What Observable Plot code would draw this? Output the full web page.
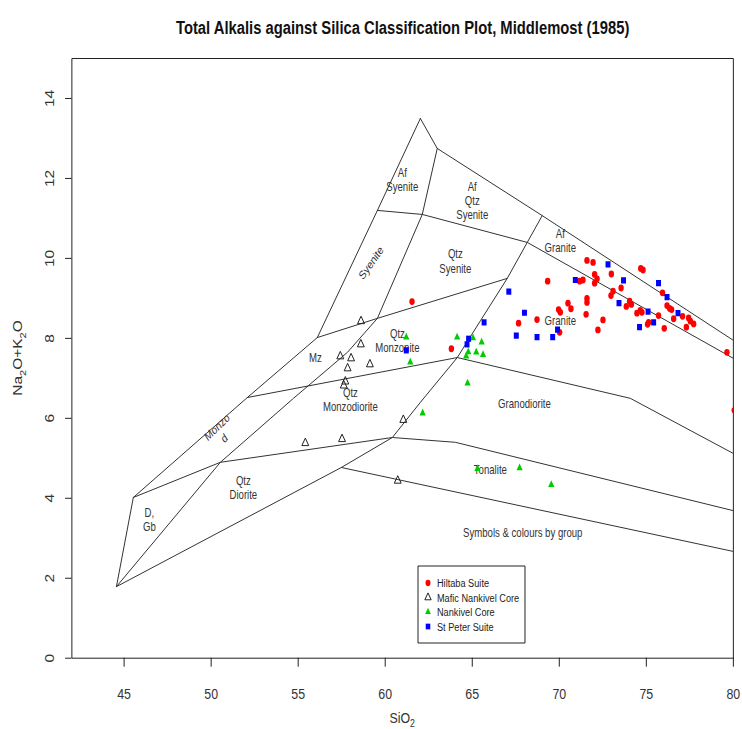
<!DOCTYPE html>
<html>
<head>
<meta charset="utf-8">
<script src="https://cdn.jsdelivr.net/npm/d3@7"></script>
<script src="https://cdn.jsdelivr.net/npm/@observablehq/plot@0.6"></script>
<style>
  html, body { margin: 0; padding: 0; background: #fff; overflow: hidden; }
  #chart svg { display: block; }
  #chart svg path, #chart svg line, #chart svg rect { vector-effect: non-scaling-stroke; }
</style>
</head>
<body>
<div id="chart"></div>
<script>
// ---------- data ----------
const titleText = "Total Alkalis against Silica Classification Plot, Middlemost (1985)";
const xTicks = [45, 50, 55, 60, 65, 70, 75, 80];
const yTicks = [0, 2, 4, 6, 8, 10, 12, 14];
const groupNames = ["Hiltaba Suite", "Mafic Nankivel Core", "Nankivel Core", "St Peter Suite"];

const hiltabaSiO2 = [61.54,63.80,69.33,67.66,68.72,69.96,70.06,70.50,70.67,70.02,71.59,71.94,72.99,71.17,71.36,72.03,72.17,72.03,71.59,71.59,71.54,72.22,72.51,73.09,72.97,73.55,73.85,74.04,74.14,74.46,74.65,74.75,74.81,75.07,75.13,75.70,75.93,76.03,76.19,76.34,76.45,76.57,77.08,77.43,77.53,77.72,77.30,79.63,80.05,74.68];
const hiltabaAlk  = [8.92,7.74,9.43,8.38,8.47,8.72,8.65,8.88,8.74,8.15,9.95,9.90,9.61,9.43,9.46,9.60,9.49,9.38,9.00,8.90,8.60,8.21,8.46,9.18,9.07,9.26,8.80,8.93,8.85,8.63,8.70,8.65,9.71,8.35,8.40,8.57,9.14,8.25,8.82,8.75,8.72,8.49,8.55,8.51,8.43,8.36,8.28,7.65,6.20,9.75];

const maficSiO2 = [58.61,58.60,57.42,58.04,57.84,59.12,57.71,57.62,61.04,57.52,55.41,60.72];
const maficAlk  = [8.43,7.85,7.55,7.50,7.25,7.35,6.92,6.82,5.96,5.48,5.38,4.44];

const nankivelSiO2 = [61.21,61.44,64.13,65.04,65.54,64.77,65.23,65.62,64.65,64.73,62.15,65.30,67.72,69.54];
const nankivelAlk  = [8.03,7.40,8.03,8.01,7.90,7.66,7.65,7.59,7.55,6.88,6.13,4.74,4.76,4.34];

const stPeterSiO2 = [64.79,64.70,61.21,65.68,67.10,68.00,67.53,68.72,69.62,69.90,70.92,72.80,73.69,75.70,76.19,73.43,75.10,76.82,75.42,74.61];
const stPeterAlk  = [7.99,7.85,7.70,8.40,9.17,8.64,8.07,8.03,8.03,8.22,9.46,9.85,9.45,9.38,9.03,8.88,8.67,8.63,8.40,8.28];

// classification boundaries (SiO2, Na2O+K2O)
const tasLines = [
  [[44.56,1.79],[45.53,4.02]],
  [[45.53,4.02],[52.08,6.52],[56.10,8.02],[59.55,11.20],[62.02,13.50]],
  [[62.02,13.50],[62.99,12.75],[69.02,11.07],[80,7.95]],
  [[44.56,1.79],[57.48,4.77],[80,2.67]],
  [[45.53,4.02],[50.53,4.90],[60.41,5.52],[64.03,5.40],[80,3.69]],
  [[44.56,1.79],[50.53,4.90],[54.73,6.50],[57.83,7.65],[59.55,8.50],[62.13,11.10],[62.99,12.75]],
  [[52.08,6.52],[64.14,7.52],[74.08,6.50],[80,5.12]],
  [[57.48,4.77],[60.41,5.52],[62.02,6.40],[64.14,7.52],[65.47,8.44],[67.01,9.50],[68.16,10.40],[69.02,11.07]],
  [[56.10,8.02],[59.55,8.50],[67.01,9.50]],
  [[59.55,11.20],[62.13,11.10],[68.16,10.40],[80,7.50]]
];

const fieldNames = ["Af\nSyenite","Af\nQtz\nSyenite","Af\nGranite","Syenite","Qtz\nSyenite","Mz","Qtz\nMonzonite","Granite","Qtz\nMonzodiorite","Granodiorite","Monzo\nd","Qtz\nDiorite","D,\nGb","Tonalite","Symbols & colours by group"];
const fieldX = [60.98,65.00,70.06,59.17,64.03,55.99,60.70,70.06,58.00,68.00,50.53,51.85,46.45,66.04,67.90];
const fieldY = [11.97,11.45,10.45,9.90,9.94,7.52,7.95,8.44,6.47,6.37,5.65,4.27,3.47,4.73,3.14];
const fieldAngle = [0,0,0,-48.8,0,0,0,0,0,0,-38.7,0,0,0,0];

// ---------- build ----------
const FONT = "'Liberation Sans', Arial, Helvetica, sans-serif";
const OUT_W = 742, W = 928, H = 729;   // drawn wide, then squeezed horizontally like the reference

const toPts = (xs, ys) => xs.map((x, i) => ({x, y: ys[i]}));
const hiltaba = toPts(hiltabaSiO2, hiltabaAlk);
const mafic = toPts(maficSiO2, maficAlk);
const nankivel = toPts(nankivelSiO2, nankivelAlk);
const stPeter = toPts(stPeterSiO2, stPeterAlk);
const lineRows = tasLines.flatMap((pl, id) => pl.map(([x, y]) => ({x, y, id})));
const labels = fieldNames.map((t, i) => ({t, x: fieldX[i], y: fieldY[i], r: fieldAngle[i]}));

const styles = [
  {symbol: "circle", r: 3.4, fill: "#ff0000", stroke: "none"},
  {symbol: "triangle", r: 3.2, fill: "none", stroke: "#222"},
  {symbol: "triangle", r: 2.9, fill: "#00cd00", stroke: "none"},
  {symbol: "square", r: 3.5, fill: "#0000ff", stroke: "none"}
];
const groupData = [hiltaba, mafic, nankivel, stPeter];

const plot = Plot.plot({
  width: W, height: H,
  marginLeft: 89.4, marginRight: 11.3, marginTop: 58, marginBottom: 71.3,
  x: {domain: [42, 80]},
  y: {domain: [0, 15]},
  style: {fontFamily: FONT, background: "#fff", color: "#222"},
  marks: [
    Plot.line(lineRows, {x: "x", y: "y", z: "id", stroke: "#333", strokeWidth: 1, clip: true}),
    Plot.text(labels, {x: "x", y: "y", text: "t", rotate: "r", fontSize: 12, fill: "#333", lineHeight: 1.2}),
    ...groupData.map((d, i) => Plot.dot(d, {x: "x", y: "y", symbol: styles[i].symbol, r: styles[i].r,
      fill: styles[i].fill, stroke: styles[i].stroke, strokeWidth: 1, clip: true})),
    Plot.frame({stroke: "#222"}),
    Plot.axisX({ticks: xTicks, tickSize: 9, tickPadding: 21, fontSize: 15.5, label: null, stroke: "#222", fill: "#333"}),
    Plot.axisY({ticks: yTicks, tickSize: 8, tickFormat: () => "", label: null, stroke: "#222"}),
    Plot.text(yTicks, {x: () => 42, y: d => d, text: d => String(d), rotate: -90, dx: -27, fontSize: 15.5, fill: "#333"}),
    Plot.text([titleText], {frameAnchor: "top", dy: -38, fontWeight: "bold", fontSize: 18.5, fill: "#111"})
  ]
});

const svg = d3.select(plot);
const cx = (89.4 + (W - 11.3)) / 2;

// x-axis title with subscript
const xl = svg.append("text").attr("x", cx).attr("y", 723).attr("text-anchor", "middle")
  .attr("font-size", 15.5).attr("fill", "#333");
xl.append("tspan").text("SiO");
xl.append("tspan").attr("dy", 4).attr("font-size", 11).text("2");

// y-axis title with subscripts
const yl = svg.append("text").attr("transform", `translate(28,358) rotate(-90)`)
  .attr("text-anchor", "middle").attr("font-size", 15.5).attr("fill", "#333");
[["Na", 0], ["2", 1], ["O+K", 0], ["2", 1], ["O", 0]].forEach(([s, sub], i, arr) => {
  const prevSub = i > 0 ? arr[i - 1][1] : 0;
  const t = yl.append("tspan").text(s);
  if (sub) t.attr("dy", 4).attr("font-size", 11);
  else if (prevSub) t.attr("dy", -4);
});

// legend
const lg = svg.append("g").attr("text-anchor", "start");
const lx = 522.8, ly = 566, lw = 133.8, lh = 77;
lg.append("rect").attr("x", lx).attr("y", ly).attr("width", lw).attr("height", lh)
  .attr("fill", "#fff").attr("stroke", "#222").attr("stroke-width", 1);
const symType = {circle: d3.symbolCircle, triangle: d3.symbolTriangle, square: d3.symbolSquare};
groupNames.forEach((name, i) => {
  const y = 583 + i * 14.5;
  const st = styles[i];
  lg.append("path")
    .attr("d", d3.symbol().type(symType[st.symbol]).size(Math.PI * st.r * st.r * 0.85)())
    .attr("transform", `translate(${lx + 12.5},${y})`)
    .attr("fill", st.fill).attr("stroke", st.stroke).attr("stroke-width", 1);
  lg.append("text").attr("x", lx + 23.7).attr("y", y).attr("dy", "0.36em")
    .attr("text-anchor", "start")
    .attr("font-size", 11.5).attr("fill", "#222").text(name);
});

// squeeze horizontally to the reference's proportions
plot.setAttribute("width", OUT_W);
plot.setAttribute("height", H);
plot.setAttribute("preserveAspectRatio", "none");
plot.style.width = OUT_W + "px";
plot.style.height = H + "px";
plot.style.maxWidth = "none";

document.getElementById("chart").appendChild(plot);
</script>
</body>
</html>
